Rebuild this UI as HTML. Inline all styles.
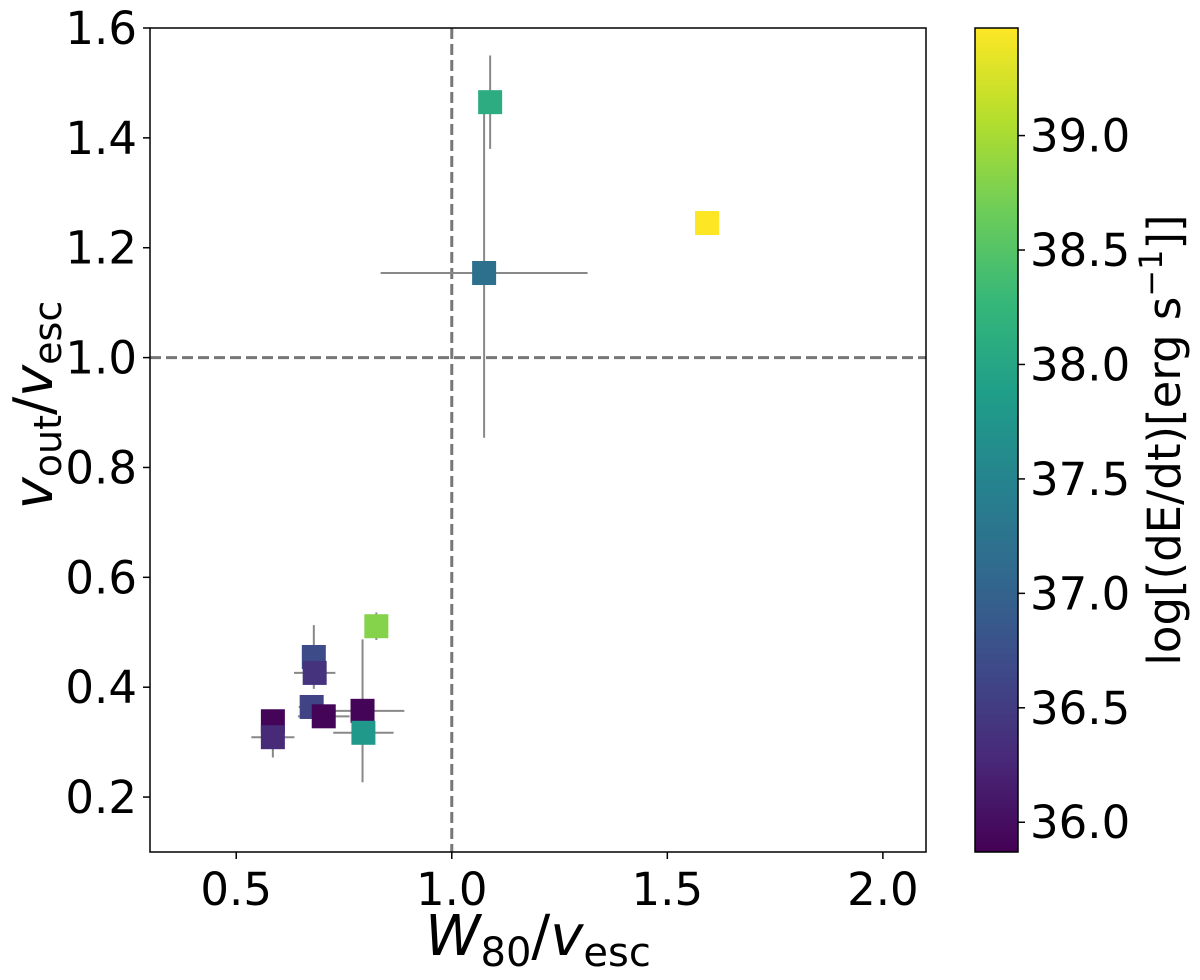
<!DOCTYPE html>
<html><head><meta charset="utf-8"><style>
body{margin:0;background:#fff;}
svg text{font-family:"DejaVu Sans","Liberation Sans",sans-serif;fill:#000;}
</style></head><body>
<svg id="chart" width="1200" height="975" xmlns="http://www.w3.org/2000/svg">
<defs><linearGradient id="vir" x1="0" y1="1" x2="0" y2="0"></linearGradient></defs>
<g id="plot"></g>
</svg>
<script>
const xVals=[0.585,0.585,0.68,0.682,0.675,0.703,0.793,0.795,0.825,1.089,1.075,1.592];
const yVals=[0.338,0.309,0.455,0.426,0.364,0.347,0.357,0.317,0.511,1.465,1.154,1.245];
const xErr=[0,0.05,0,0.048,0.03,0.06,0.097,0.07,0,0.025,0.24,0];
const yErr=[0,0.037,0.058,0,0.02,0,0.13,0,0.025,0.085,0.3,0];
const cVals=[35.9,36.3,36.7,36.4,36.6,35.9,35.9,37.8,38.8,38.1,37.2,39.47];
const xTicks=[0.5,1.0,1.5,2.0];
const yTicks=[0.2,0.4,0.6,0.8,1.0,1.2,1.4,1.6];
const cTicks=[36.0,36.5,37.0,37.5,38.0,38.5,39.0];
const NS='http://www.w3.org/2000/svg';
const L=150,R=926,T=28,B=852;
const xs=v=>L+(v-0.3)/(2.1-0.3)*(R-L);
const ys=v=>B-(v-0.1)/(1.6-0.1)*(B-T);
const cMin=35.87,cMax=39.47;
const cs=v=>B-(v-cMin)/(cMax-cMin)*(B-T);
const vir=[[68,1,84],[72,40,120],[62,74,137],[49,104,142],[38,130,142],[31,158,137],[53,183,121],[109,205,89],[180,222,44],[253,231,37]];
function color(v){let t=Math.max(0,Math.min(1,(v-cMin)/(cMax-cMin)))*(vir.length-1);let i=Math.min(Math.floor(t),vir.length-2),f=t-i;const c=vir[i].map((a,k)=>Math.round(a+(vir[i+1][k]-a)*f));return `rgb(${c})`;}
const svg=document.getElementById('chart'),g=document.getElementById('plot');
function el(tag,attrs,parent){const e=document.createElementNS(NS,tag);for(const k in attrs)e.setAttribute(k,attrs[k]);(parent||svg).appendChild(e);return e;}
const grad=document.getElementById('vir');
vir.forEach((c,i)=>el('stop',{offset:(i/(vir.length-1)),'stop-color':`rgb(${c})`},grad));
let d1=el('line',{x1:xs(1),x2:xs(1),y1:T,y2:B,stroke:'#777','stroke-width':3,'stroke-dasharray':'11,5'},g);


let d2=el('line',{x1:L,x2:R,y1:ys(1),y2:ys(1),stroke:'#777','stroke-width':3,'stroke-dasharray':'11,5'},g);


xVals.forEach((x,i)=>{
 if(xErr[i]>0){const e=el('line',{x1:xs(x-xErr[i]),x2:xs(x+xErr[i]),y1:ys(yVals[i]),y2:ys(yVals[i]),stroke:'#888','stroke-width':2},g);
 
 }
 if(yErr[i]>0){const e=el('line',{x1:xs(x),x2:xs(x),y1:ys(yVals[i]-yErr[i]),y2:ys(yVals[i]+yErr[i]),stroke:'#888','stroke-width':2},g);
 
 }
});
xVals.forEach((x,i)=>{
 const s=el('rect',{x:xs(x)-12,y:ys(yVals[i])-12,width:24,height:24,fill:color(cVals[i])},g);
 
 
});
const fr=el('rect',{x:L,y:T,width:R-L,height:B-T,fill:'none',stroke:'#000','stroke-width':1.5});


xTicks.forEach(v=>{
 el('line',{x1:xs(v),x2:xs(v),y1:B,y2:B+7,stroke:'#000','stroke-width':1.5});
 const t=el('text',{x:xs(v),y:B+53,'text-anchor':'middle','font-size':45});t.textContent=v.toFixed(1);
 
 
});
yTicks.forEach(v=>{
 el('line',{x1:L-7,x2:L,y1:ys(v),y2:ys(v),stroke:'#000','stroke-width':1.5});
 const t=el('text',{x:L-13,y:ys(v)+16,'text-anchor':'end','font-size':45});t.textContent=v.toFixed(1);
 
 
});
const cb=el('rect',{x:975,y:T,width:43,height:B-T,fill:'url(#vir)',stroke:'#000','stroke-width':1.5});


cTicks.forEach(v=>{
 el('line',{x1:1018,x2:1025,y1:cs(v),y2:cs(v),stroke:'#000','stroke-width':1.5});
 const t=el('text',{x:1030,y:cs(v)+16,'font-size':45});t.textContent=v.toFixed(1);
 
 
});
</script>
<svg style="position:absolute;left:0;top:0" width="1200" height="975" xmlns="http://www.w3.org/2000/svg">
<text x="538" y="955" text-anchor="middle" font-size="56" style="font-family:'DejaVu Sans',sans-serif"><tspan font-style="italic">W</tspan><tspan font-size="40" dy="11">80</tspan><tspan dy="-11">/</tspan><tspan font-style="italic">v</tspan><tspan font-size="40" dy="11">esc</tspan></text>
<text transform="translate(52,405) rotate(-90)" text-anchor="middle" font-size="54" style="font-family:'DejaVu Sans',sans-serif"><tspan font-style="italic">v</tspan><tspan font-size="38" dy="9">out</tspan><tspan dy="-9">/</tspan><tspan font-style="italic">v</tspan><tspan font-size="38" dy="9">esc</tspan></text>
<text transform="translate(1180,440) rotate(-90)" text-anchor="middle" font-size="45" style="font-family:'DejaVu Sans',sans-serif">log[(dE/dt)[erg s<tspan font-size="32" dy="-18">−1</tspan><tspan dy="18">]]</tspan></text>
</svg>
</body></html>
